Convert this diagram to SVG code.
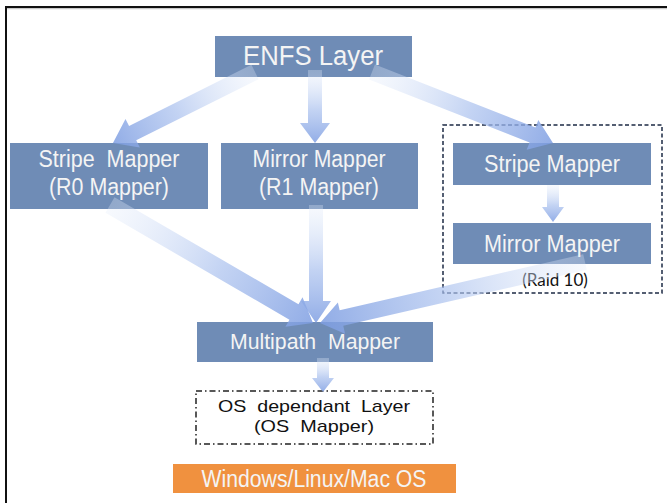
<svg xmlns="http://www.w3.org/2000/svg" width="667" height="503" viewBox="0 0 667 503">
  <defs>
    <style>
      .box { fill: #6f8cb6; }
      .orange { fill: #f0913f; }
      .lbl { font-family: "Liberation Sans", Arial, sans-serif; fill: #f4f4f4; text-anchor: middle; white-space: pre; }
      .dark { font-family: "Liberation Sans", Arial, sans-serif; fill: #111; text-anchor: middle; white-space: pre; }
      .note { font-family: Lato, "Open Sans", sans-serif; fill: #111; text-anchor: middle; }
      .arrow { fill: url(#flow); }
    </style>
    <!-- arrows are drawn along +x in local coords; the gradient runs tail to head -->
    <linearGradient id="flow" x1="0" y1="0" x2="1" y2="0">
      <stop offset="0" stop-color="#e4ecfa" stop-opacity="0.3"/>
      <stop offset="0.55" stop-color="#a9c0ee" stop-opacity="0.7"/>
      <stop offset="1" stop-color="#7e9ee2" stop-opacity="0.85"/>
    </linearGradient>
  </defs>

  <rect width="667" height="503" fill="#ffffff"/>

  <!-- page frame (top and left edges) -->
  <g id="frame">
    <line x1="5" y1="7" x2="667" y2="7" stroke="#111" stroke-width="2"/>
    <line x1="6" y1="6" x2="6" y2="503" stroke="#111" stroke-width="2"/>
    <line x1="7" y1="8.7" x2="667" y2="8.7" stroke="#aaa" stroke-width="0.8"/>
  </g>

  <!-- nodes -->
  <g id="enfs">
    <rect class="box" x="215" y="36" width="197" height="41"/>
    <text class="lbl" x="313" y="65" font-size="27" textLength="140" lengthAdjust="spacingAndGlyphs">ENFS Layer</text>
  </g>

  <g id="stripe-r0">
    <rect class="box" x="10" y="143" width="198" height="66"/>
    <text class="lbl" x="109" y="167" font-size="23" textLength="141" lengthAdjust="spacingAndGlyphs">Stripe  Mapper</text>
    <text class="lbl" x="109" y="195" font-size="23" textLength="120" lengthAdjust="spacingAndGlyphs">(R0 Mapper)</text>
  </g>

  <g id="mirror-r1">
    <rect class="box" x="221" y="143" width="197" height="66"/>
    <text class="lbl" x="319" y="167" font-size="23" textLength="133" lengthAdjust="spacingAndGlyphs">Mirror Mapper</text>
    <text class="lbl" x="319" y="195" font-size="23" textLength="120" lengthAdjust="spacingAndGlyphs">(R1 Mapper)</text>
  </g>

  <g id="raid10">
    <rect x="443" y="125" width="219" height="168" fill="none" stroke="#1c2a44" stroke-width="1.5" stroke-dasharray="4 2.5"/>
    <text class="note" x="555" y="286" font-size="17">(Raid 10)</text>
  </g>

  <g id="stripe-r10">
    <rect class="box" x="453" y="143" width="198" height="42"/>
    <text class="lbl" x="552" y="172" font-size="23" textLength="136" lengthAdjust="spacingAndGlyphs">Stripe Mapper</text>
  </g>

  <g id="mirror-r10">
    <rect class="box" x="453" y="223" width="198" height="41"/>
    <text class="lbl" x="552" y="252" font-size="23" textLength="136" lengthAdjust="spacingAndGlyphs">Mirror Mapper</text>
  </g>

  <g id="multipath">
    <rect class="box" x="197" y="322" width="236" height="40"/>
    <text class="lbl" x="315" y="349" font-size="22" textLength="170" lengthAdjust="spacingAndGlyphs">Multipath  Mapper</text>
  </g>

  <g id="os-layer">
    <rect x="196" y="391" width="237" height="53" fill="none" stroke="#222" stroke-width="1.5" stroke-dasharray="6 3 1.5 3"/>
    <text class="dark" x="314" y="412" font-size="17" textLength="192" lengthAdjust="spacingAndGlyphs">OS  dependant  Layer</text>
    <text class="dark" x="314" y="432" font-size="17" textLength="120" lengthAdjust="spacingAndGlyphs">(OS  Mapper)</text>
  </g>

  <g id="os">
    <rect class="orange" x="173" y="464" width="283" height="29"/>
    <text class="lbl" x="314" y="487" font-size="23" textLength="225" lengthAdjust="spacingAndGlyphs">Windows/Linux/Mac OS</text>
  </g>

  <!-- connectors: wide fading block arrows -->
  <g id="connectors">
    <!-- ENFS -> Stripe (R0) -->
    <path class="arrow" transform="translate(255,72) rotate(153.43)" d="M0,-8 L136.8,-8 L136.8,-16 L158.8,0 L136.8,16 L136.8,8 L0,8 Z"/>
    <!-- ENFS -> Mirror (R1) -->
    <path class="arrow" transform="translate(315,70) rotate(90)" d="M0,-7 L53,-7 L53,-15 L73,0 L53,15 L53,7 L0,7 Z"/>
    <!-- ENFS -> Stripe (Raid 10) -->
    <path class="arrow" transform="translate(372,72) rotate(21.42)" d="M0,-8 L172.4,-8 L172.4,-16 L194.4,0 L172.4,16 L172.4,8 L0,8 Z"/>
    <!-- Stripe (R0) -> Multipath -->
    <path class="arrow" transform="translate(110,205) rotate(30.17)" d="M0,-9 L212.8,-9 L212.8,-17 L234.8,0 L212.8,17 L212.8,9 L0,9 Z"/>
    <!-- Mirror (R1) -> Multipath -->
    <path class="arrow" transform="translate(316,205) rotate(90)" d="M0,-7 L96,-7 L96,-15 L118,0 L96,15 L96,7 L0,7 Z"/>
    <!-- Mirror (Raid 10) -> Multipath -->
    <path class="arrow" transform="translate(585,262) rotate(167.04)" d="M0,-8 L249.9,-8 L249.9,-16 L271.9,0 L249.9,16 L249.9,8 L0,8 Z"/>
    <!-- Stripe (Raid 10) -> Mirror (Raid 10) -->
    <path class="arrow" transform="translate(553,185) rotate(90)" d="M0,-6 L22,-6 L22,-11 L37,0 L22,11 L22,6 L0,6 Z"/>
    <!-- Multipath -> OS dependant layer -->
    <path class="arrow" transform="translate(323,358) rotate(90)" d="M0,-6 L20,-6 L20,-11 L34,0 L20,11 L20,6 L0,6 Z"/>
  </g>
</svg>
